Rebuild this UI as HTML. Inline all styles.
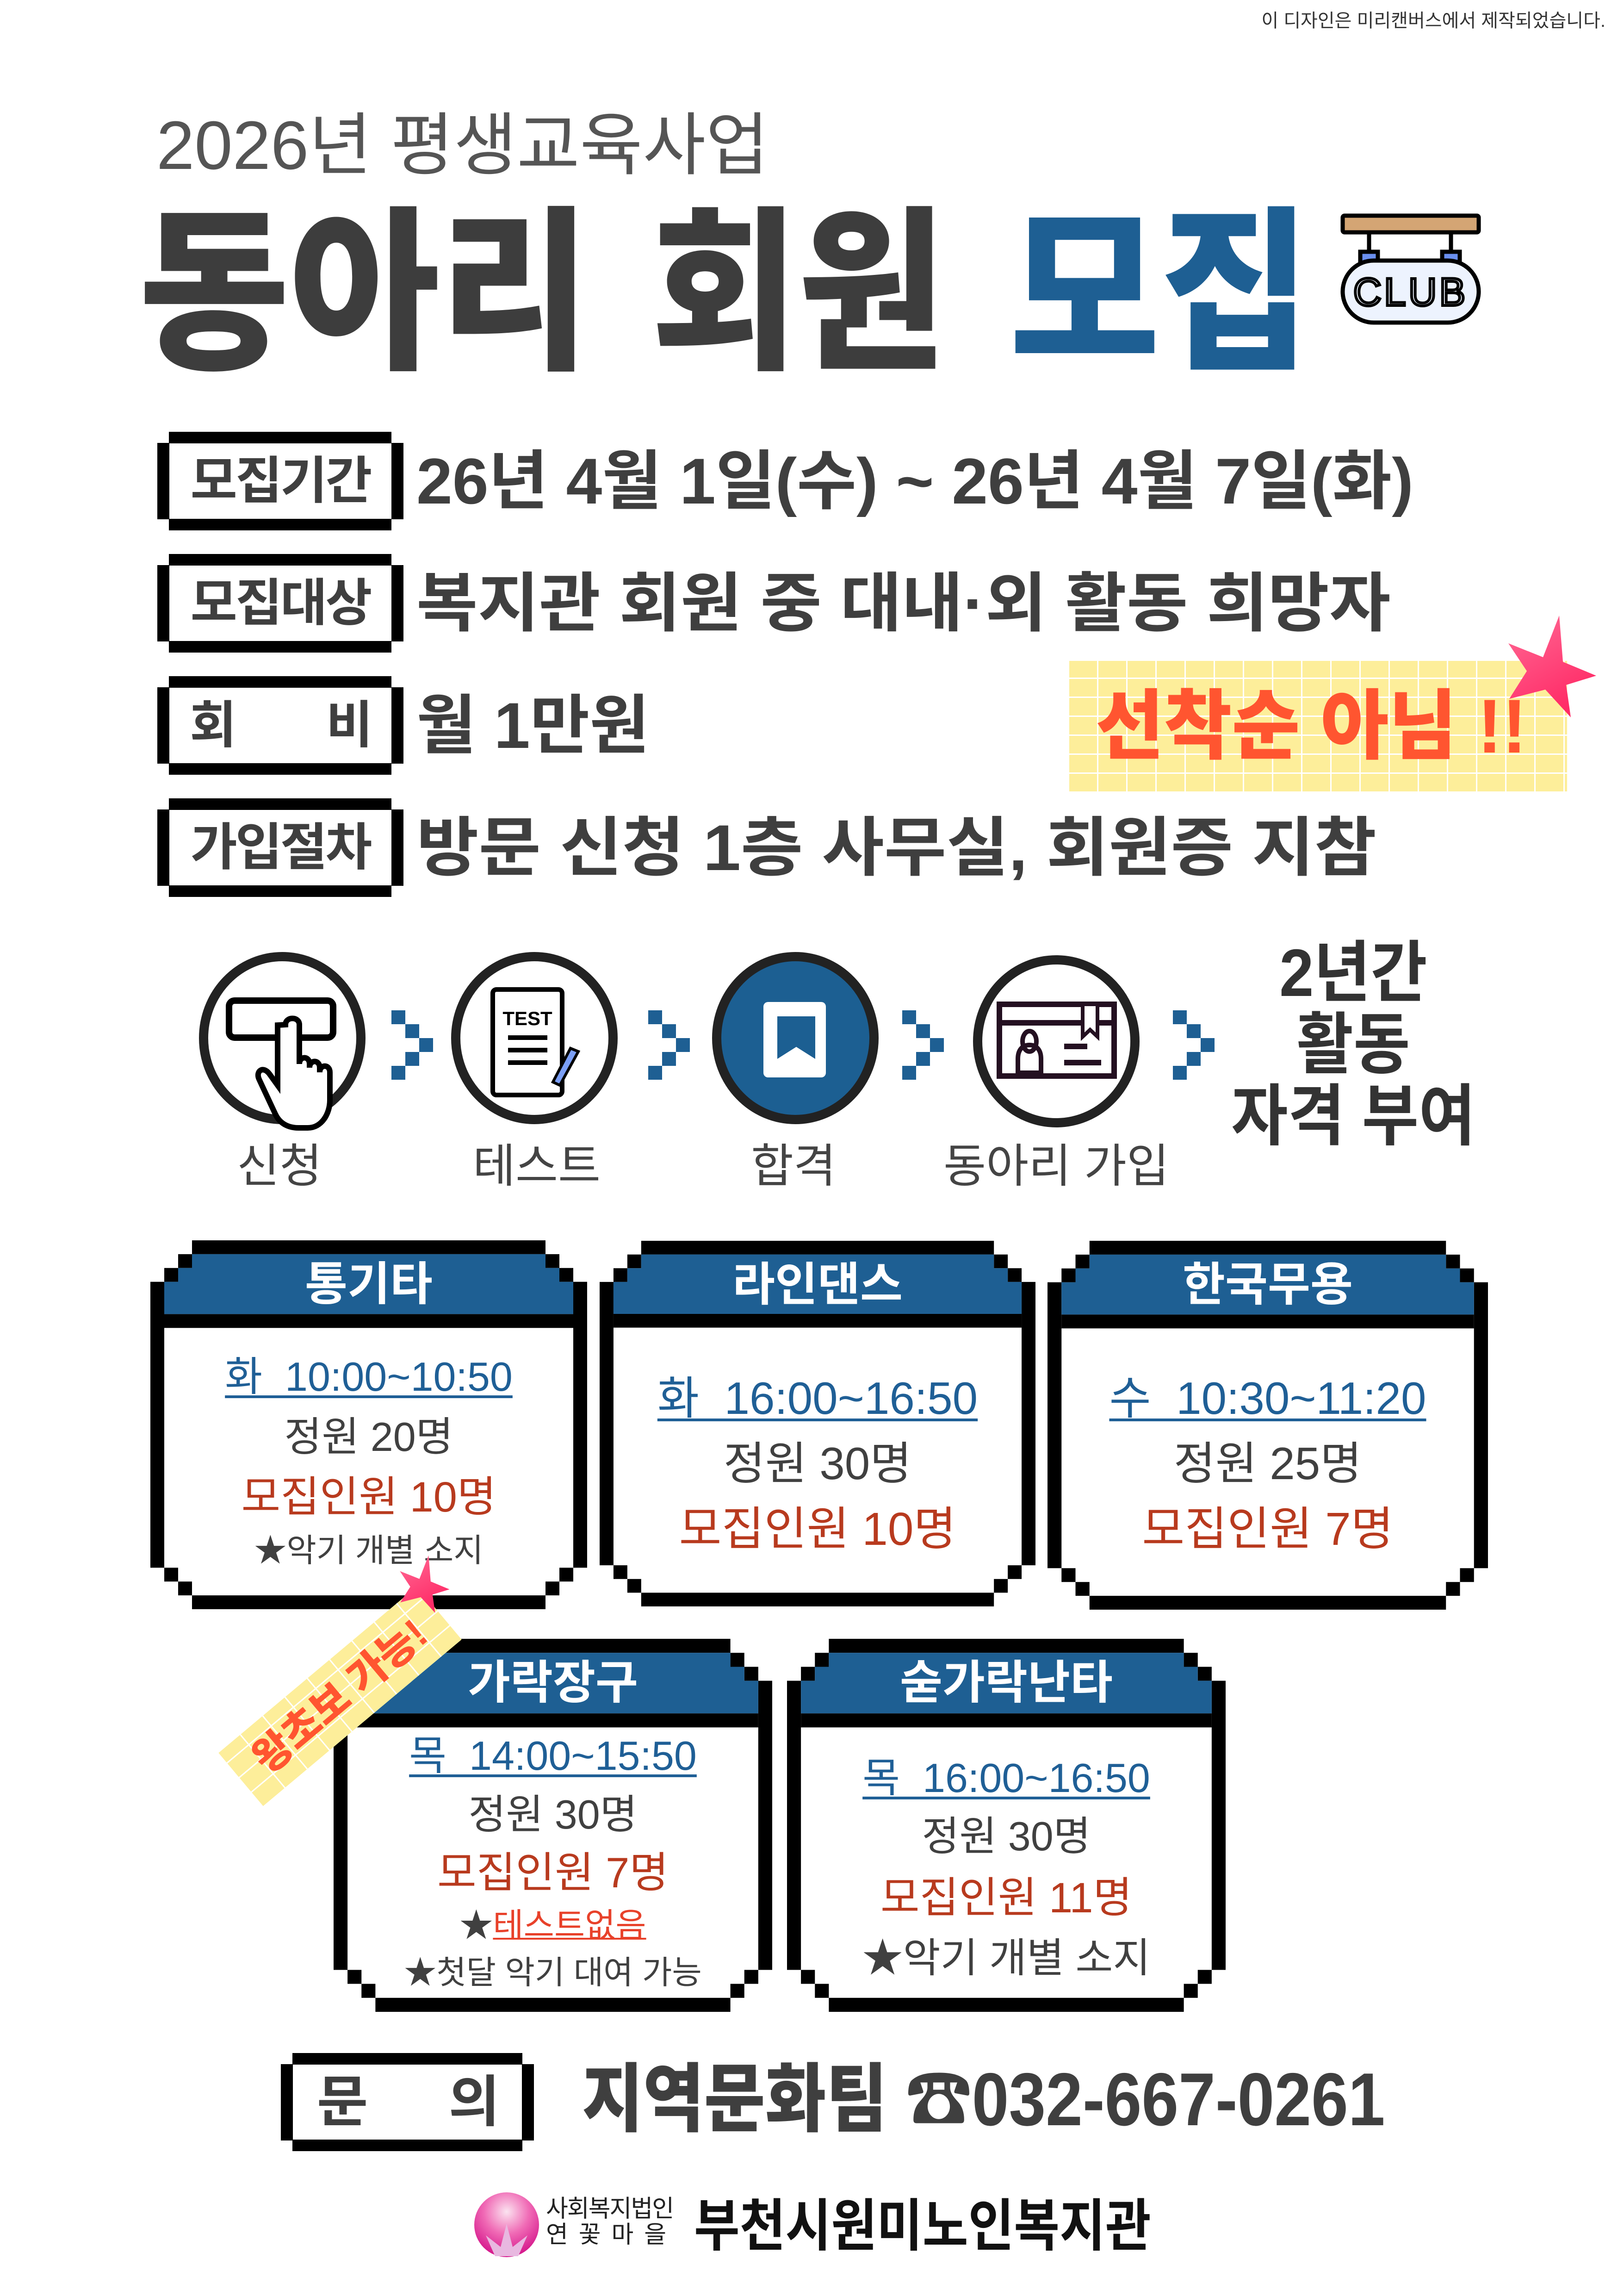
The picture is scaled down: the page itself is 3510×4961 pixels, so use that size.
<!DOCTYPE html>
<html><head><meta charset="utf-8">
<style>
*{margin:0;padding:0;box-sizing:border-box}
body{width:3510px;height:4961px;background:#fff;position:relative;overflow:hidden;font-family:"Liberation Sans","Noto Sans CJK KR",sans-serif;color:#404040}
.a{position:absolute;white-space:nowrap}
.lb{position:absolute;width:532px;height:213px}
.lb i{position:absolute;background:#000}
.lb .t{left:25px;top:0;width:481px;height:25px}
.lb .b{left:25px;bottom:0;width:481px;height:25px}
.lb .l{left:0;top:24px;width:26px;height:165px}
.lb .r{right:0;top:24px;width:26px;height:165px}
.lb span{position:absolute;left:0;top:0;width:100%;height:213px;line-height:213px;text-align:center;font-size:110px;font-weight:700;color:#3f3f3f;letter-spacing:-4px}
.val{position:absolute;left:900px;font-size:140px;font-weight:700;color:#3f3f3f;line-height:213px;height:213px;transform-origin:left center}
.card{position:absolute}
.card svg{position:absolute;left:0;top:0;width:100%;height:100%}
.card .h{position:absolute;left:0;width:100%;text-align:center;color:#fff;font-weight:700;font-size:100px;top:30px;height:130px;line-height:130px}
.card .ln{position:absolute;left:0;width:100%;text-align:center;white-space:nowrap}
.tm{color:#1f5f96;text-decoration:underline;text-decoration-thickness:6px;text-underline-offset:10px}
.rd{color:#b83a1e}
.plab{position:absolute;width:500px;text-align:center;font-size:100px;color:#444;top:2460px;line-height:120px}
.tape{background-color:#fdee9a;background-image:repeating-linear-gradient(90deg,transparent 0 60px,#fff 60px 63px),repeating-linear-gradient(0deg,transparent 0 38px,#fff 38px 41px)}
</style></head><body>

<div class="a" style="right:40px;top:12px;font-size:40px;color:#333">이 디자인은 미리캔버스에서 제작되었습니다.</div>
<div class="a" style="left:338px;top:215px;font-size:148px;color:#555;line-height:200px">2026년 평생교육사업</div>

<div class="a" style="left:300px;top:400px;font-size:380px;font-weight:900;line-height:470px;color:#3d3d3d;transform:scaleX(0.93);transform-origin:left center">동아리</div>
<div class="a" style="left:1407px;top:400px;font-size:380px;font-weight:900;line-height:470px;color:#3d3d3d;transform:scaleX(0.91);transform-origin:left center">회원</div>
<div class="a" style="left:2182px;top:400px;font-size:380px;font-weight:900;line-height:470px;color:#1e5f93;transform:scaleX(0.93);transform-origin:left center">모집</div>

<svg class="a" style="left:2896px;top:460px" width="310" height="245" viewBox="0 0 310 245">
<rect x="6" y="6" width="294" height="36" rx="4" fill="#d4a574" stroke="#000" stroke-width="9"/>
<line x1="63" y1="42" x2="63" y2="85" stroke="#000" stroke-width="9"/>
<line x1="240" y1="42" x2="240" y2="85" stroke="#000" stroke-width="9"/>
<rect x="44" y="84" width="38" height="34" fill="#6a8ff0" stroke="#000" stroke-width="9"/>
<rect x="221" y="84" width="38" height="34" fill="#6a8ff0" stroke="#000" stroke-width="9"/>
<rect x="6" y="103" width="294" height="134" rx="67" fill="#edf3fe" stroke="#000" stroke-width="9"/>
<text x="153" y="200" text-anchor="middle" font-family="Liberation Sans" font-size="84" fill="#edf3fe" stroke="#000" stroke-width="6" letter-spacing="6">CLUB</text>
</svg>

<div class="lb" style="left:340px;top:933px"><i class="t"></i><i class="b"></i><i class="l"></i><i class="r"></i><span>모집기간</span></div>
<div class="val" style="top:933px">26년 4월 1일(수) ~ 26년 4월 7일(화)</div>
<div class="lb" style="left:340px;top:1197px"><i class="t"></i><i class="b"></i><i class="l"></i><i class="r"></i><span>모집대상</span></div>
<div class="val" style="top:1197px;transform:scaleX(1.03)">복지관 회원 중 대내·외 활동 희망자</div>
<div class="lb" style="left:340px;top:1461px"><i class="t"></i><i class="b"></i><i class="l"></i><i class="r"></i><span style="text-align:left;padding-left:70px">회</span><span style="text-align:right;padding-right:70px">비</span></div>
<div class="val" style="top:1461px">월 1만원</div>
<div class="lb" style="left:340px;top:1725px"><i class="t"></i><i class="b"></i><i class="l"></i><i class="r"></i><span>가입절차</span></div>
<div class="val" style="top:1725px;transform:scaleX(1.045)">방문 신청 1층 사무실, 회원증 지참</div>

<div class="a tape" style="left:2311px;top:1428px;width:1076px;height:282px"></div>
<div class="a" style="left:2368px;top:1469px;font-size:165px;font-weight:900;color:#ff5530;line-height:200px;transform:scaleX(0.97);transform-origin:left center">선착순 아님 !!</div>
<svg class="a" style="left:3240px;top:1320px" width="220" height="230" viewBox="0 0 220 230">
<defs><linearGradient id="sg" x1="0" y1="0" x2="0.5" y2="1"><stop offset="0" stop-color="#ff6a95"/><stop offset="1" stop-color="#ff2a66"/></linearGradient></defs>
<polygon points="130,10 138,110 210,140 145,160 155,230 100,170 22,190 60,130 20,70 95,100" fill="url(#sg)"/>
</svg>

<svg class="a" style="left:0;top:2040px" width="2700" height="420" viewBox="0 2040 2700 420">
<g fill="none" stroke="#222" stroke-width="20">
<ellipse cx="610" cy="2243" rx="170" ry="176" fill="#fff"/>
<ellipse cx="1155" cy="2243" rx="170" ry="176" fill="#fff"/>
<ellipse cx="1719" cy="2243" rx="170" ry="176" fill="#1c5f92"/>
<ellipse cx="2283" cy="2250" rx="170" ry="176" fill="#fff"/>
</g>
<rect x="495" y="2162" width="225" height="80" rx="12" fill="none" stroke="#000" stroke-width="14"/>
<path d="M600 2215 v130 l-18 -25 c-14 -18 -30 -5 -22 12 l35 75 c10 22 30 30 50 30 h20 c30 0 48 -30 48 -60 v-60 c0 -18 -22 -18 -22 0 v-10 c0 -18 -22 -18 -22 0 v-8 c0 -18 -22 -18 -22 0 v-85 c0 -18 -30 -18 -30 0z" fill="#fff" stroke="#000" stroke-width="12"/>
<rect x="1065" y="2138" width="150" height="228" rx="8" fill="#fff" stroke="#000" stroke-width="10"/>
<text x="1140" y="2215" text-anchor="middle" font-family="Liberation Sans" font-weight="700" font-size="42" fill="#000">TEST</text>
<rect x="1098" y="2237" width="85" height="10" fill="#000"/><rect x="1098" y="2264" width="85" height="10" fill="#000"/><rect x="1098" y="2291" width="85" height="10" fill="#000"/>
<polygon points="1233,2265 1250,2272 1210,2345 1195,2338" fill="#7a9ef5" stroke="#000" stroke-width="6"/>
<rect x="1650" y="2165" width="135" height="163" rx="10" fill="#fff"/>
<polygon points="1680,2196 1762,2196 1762,2288 1721,2262 1680,2288" fill="#1c5f92"/>
<rect x="2160" y="2170" width="248" height="155" fill="#fff" stroke="#241021" stroke-width="12"/>
<line x1="2160" y1="2210" x2="2408" y2="2210" stroke="#241021" stroke-width="12"/>
<ellipse cx="2225" cy="2250" rx="15" ry="22" fill="none" stroke="#241021" stroke-width="10"/>
<path d="M2200 2318 v-30 c0 -20 10 -30 25 -30 c15 0 25 10 25 30 v30z" fill="none" stroke="#241021" stroke-width="10"/>
<rect x="2300" y="2255" width="50" height="12" fill="#241021"/><rect x="2300" y="2290" width="80" height="12" fill="#241021"/>
<polygon points="2340,2170 2372,2170 2372,2240 2356,2225 2340,2240" fill="#fff" stroke="#241021" stroke-width="8"/>
<g fill="#1e5f93">
<g transform="translate(846 2183)"><rect x="0" y="0" width="30" height="30"/><rect x="30" y="30" width="30" height="30"/><rect x="60" y="60" width="30" height="30"/><rect x="30" y="90" width="30" height="30"/><rect x="0" y="120" width="30" height="30"/></g>
<g transform="translate(1401 2183)"><rect x="0" y="0" width="30" height="30"/><rect x="30" y="30" width="30" height="30"/><rect x="60" y="60" width="30" height="30"/><rect x="30" y="90" width="30" height="30"/><rect x="0" y="120" width="30" height="30"/></g>
<g transform="translate(1950 2183)"><rect x="0" y="0" width="30" height="30"/><rect x="30" y="30" width="30" height="30"/><rect x="60" y="60" width="30" height="30"/><rect x="30" y="90" width="30" height="30"/><rect x="0" y="120" width="30" height="30"/></g>
<g transform="translate(2535 2183)"><rect x="0" y="0" width="30" height="30"/><rect x="30" y="30" width="30" height="30"/><rect x="60" y="60" width="30" height="30"/><rect x="30" y="90" width="30" height="30"/><rect x="0" y="120" width="30" height="30"/></g>
</g>
</svg>
<div class="plab" style="left:354px">신청</div>
<div class="plab" style="left:910px">테스트</div>
<div class="plab" style="left:1465px">합격</div>
<div class="plab" style="left:2033px">동아리 가입</div>
<div class="a" style="left:2600px;top:2025px;width:650px;text-align:center;font-size:145px;font-weight:700;color:#333;line-height:155px;transform:scaleX(0.92)">2년간<br>활동<br>자격 부여</div>

<svg width="0" height="0" style="position:absolute"><defs>
<g id="cf">
<polygon fill="#000" points="90,0 854,0 854,30 884,30 884,60 914,60 914,90 944,90 944,710 914,710 914,740 884,740 884,770 854,770 854,800 90,800 90,770 60,770 60,740 30,740 30,710 0,710 0,90 30,90 30,60 60,60 60,30 90,30"/>
<polygon fill="#fff" points="90,30 854,30 854,60 884,60 884,90 914,90 914,710 884,710 884,740 854,740 854,770 90,770 90,740 60,740 60,710 30,710 30,90 60,90 60,60 90,60"/>
<polygon fill="#1e5f93" points="90,30 854,30 854,60 884,60 884,90 914,90 914,160 30,160 30,90 60,90 60,60 90,60"/>
<rect x="30" y="160" width="884" height="30" fill="#000"/>
</g></defs></svg>

<div class="card" style="left:325px;top:2680px;width:944px;height:797px">
<svg viewBox="0 0 944 800" preserveAspectRatio="none"><use href="#cf"/></svg>
<div class="h">통기타</div>
<div class="ln tm" style="top:245px;font-size:88px;line-height:100px">화&nbsp; 10:00~10:50</div>
<div class="ln" style="top:375px;font-size:88px;line-height:100px">정원 20명</div>
<div class="ln rd" style="top:505px;font-size:92px;line-height:100px">모집인원 10명</div>
<div class="ln" style="top:630px;font-size:70px;line-height:80px">★악기 개별 소지</div>
</div>

<div class="card" style="left:1296px;top:2681px;width:942px;height:790px">
<svg viewBox="0 0 944 800" preserveAspectRatio="none"><use href="#cf"/></svg>
<div class="h">라인댄스</div>
<div class="ln tm" style="top:285px;font-size:98px;line-height:110px">화&nbsp; 16:00~16:50</div>
<div class="ln" style="top:426px;font-size:98px;line-height:110px">정원 30명</div>
<div class="ln rd" style="top:568px;font-size:100px;line-height:110px">모집인원 10명</div>
</div>

<div class="card" style="left:2264px;top:2681px;width:952px;height:797px">
<svg viewBox="0 0 944 800" preserveAspectRatio="none"><use href="#cf"/></svg>
<div class="h">한국무용</div>
<div class="ln tm" style="top:285px;font-size:98px;line-height:110px">수&nbsp; 10:30~11:20</div>
<div class="ln" style="top:426px;font-size:98px;line-height:110px">정원 25명</div>
<div class="ln rd" style="top:568px;font-size:100px;line-height:110px">모집인원 7명</div>
</div>

<div class="card" style="left:721px;top:3541px;width:948px;height:806px">
<svg viewBox="0 0 944 800" preserveAspectRatio="none"><use href="#cf"/></svg>
<div class="h">가락장구</div>
<div class="ln tm" style="top:203px;font-size:88px;line-height:100px">목&nbsp; 14:00~15:50</div>
<div class="ln" style="top:330px;font-size:88px;line-height:100px">정원 30명</div>
<div class="ln rd" style="top:456px;font-size:92px;line-height:100px">모집인원 7명</div>
<div class="ln" style="top:580px;font-size:72px;line-height:80px">★<span style="color:#e8412a;text-decoration:underline;text-decoration-thickness:4px">테스트없음</span></div>
<div class="ln" style="top:681px;font-size:70px;line-height:80px">★첫달 악기 대여 가능</div>
</div>

<div class="card" style="left:1701px;top:3541px;width:948px;height:806px">
<svg viewBox="0 0 944 800" preserveAspectRatio="none"><use href="#cf"/></svg>
<div class="h">숟가락난타</div>
<div class="ln tm" style="top:251px;font-size:88px;line-height:100px">목&nbsp; 16:00~16:50</div>
<div class="ln" style="top:377px;font-size:88px;line-height:100px">정원 30명</div>
<div class="ln rd" style="top:510px;font-size:92px;line-height:100px">모집인원 11명</div>
<div class="ln" style="top:640px;font-size:88px;line-height:100px">★악기 개별 소지</div>
</div>

<div class="a tape" style="left:455px;top:3590px;width:560px;height:150px;transform:rotate(-40deg);transform-origin:center"></div>
<div class="a" style="left:455px;top:3590px;width:560px;height:150px;line-height:150px;text-align:center;transform:rotate(-40deg);font-size:88px;font-weight:900;color:#ff5530">왕초보 가능!</div>
<svg class="a" style="left:850px;top:3355px" width="130" height="130" viewBox="0 0 220 230">
<polygon points="130,10 138,110 210,140 145,160 155,230 100,170 22,190 60,130 20,70 95,100" fill="url(#sg)"/>
</svg>

<div class="lb" style="left:607px;top:4436px;width:547px;height:212px"><i class="t" style="width:497px"></i><i class="b" style="width:497px"></i><i class="l"></i><i class="r"></i><span style="text-align:left;padding-left:78px;font-size:120px;height:212px;line-height:212px">문</span><span style="text-align:right;padding-right:78px;font-size:120px;height:212px;line-height:212px">의</span></div>
<div class="a" style="left:1258px;top:4437px;font-size:162px;font-weight:900;color:#3f3f3f;line-height:200px;transform:scaleX(0.885);transform-origin:left center">지역문화팀 ☎032-667-0261</div>

<svg class="a" style="left:1020px;top:4735px" width="150" height="145" viewBox="0 0 150 145">
<defs><radialGradient id="lg" cx="0.5" cy="0.3" r="0.7"><stop offset="0" stop-color="#fbe3f0"/><stop offset="0.5" stop-color="#f06ab5"/><stop offset="1" stop-color="#d4148a"/></radialGradient></defs>
<ellipse cx="75" cy="72" rx="70" ry="70" fill="url(#lg)"/>
<polygon points="75,70 88,120 120,95 100,140 50,140 30,95 62,120" fill="#e8b8e0"/>
</svg>
<div class="a" style="left:1180px;top:4745px;font-size:52px;line-height:56px;color:#222;letter-spacing:-2px">사회복지법인<br>연&nbsp; 꽃&nbsp; 마&nbsp; 을</div>
<div class="a" style="left:1500px;top:4745px;font-size:122px;font-weight:700;color:#111;line-height:130px;transform:scaleX(0.88);transform-origin:left center">부천시원미노인복지관</div>

</body></html>
